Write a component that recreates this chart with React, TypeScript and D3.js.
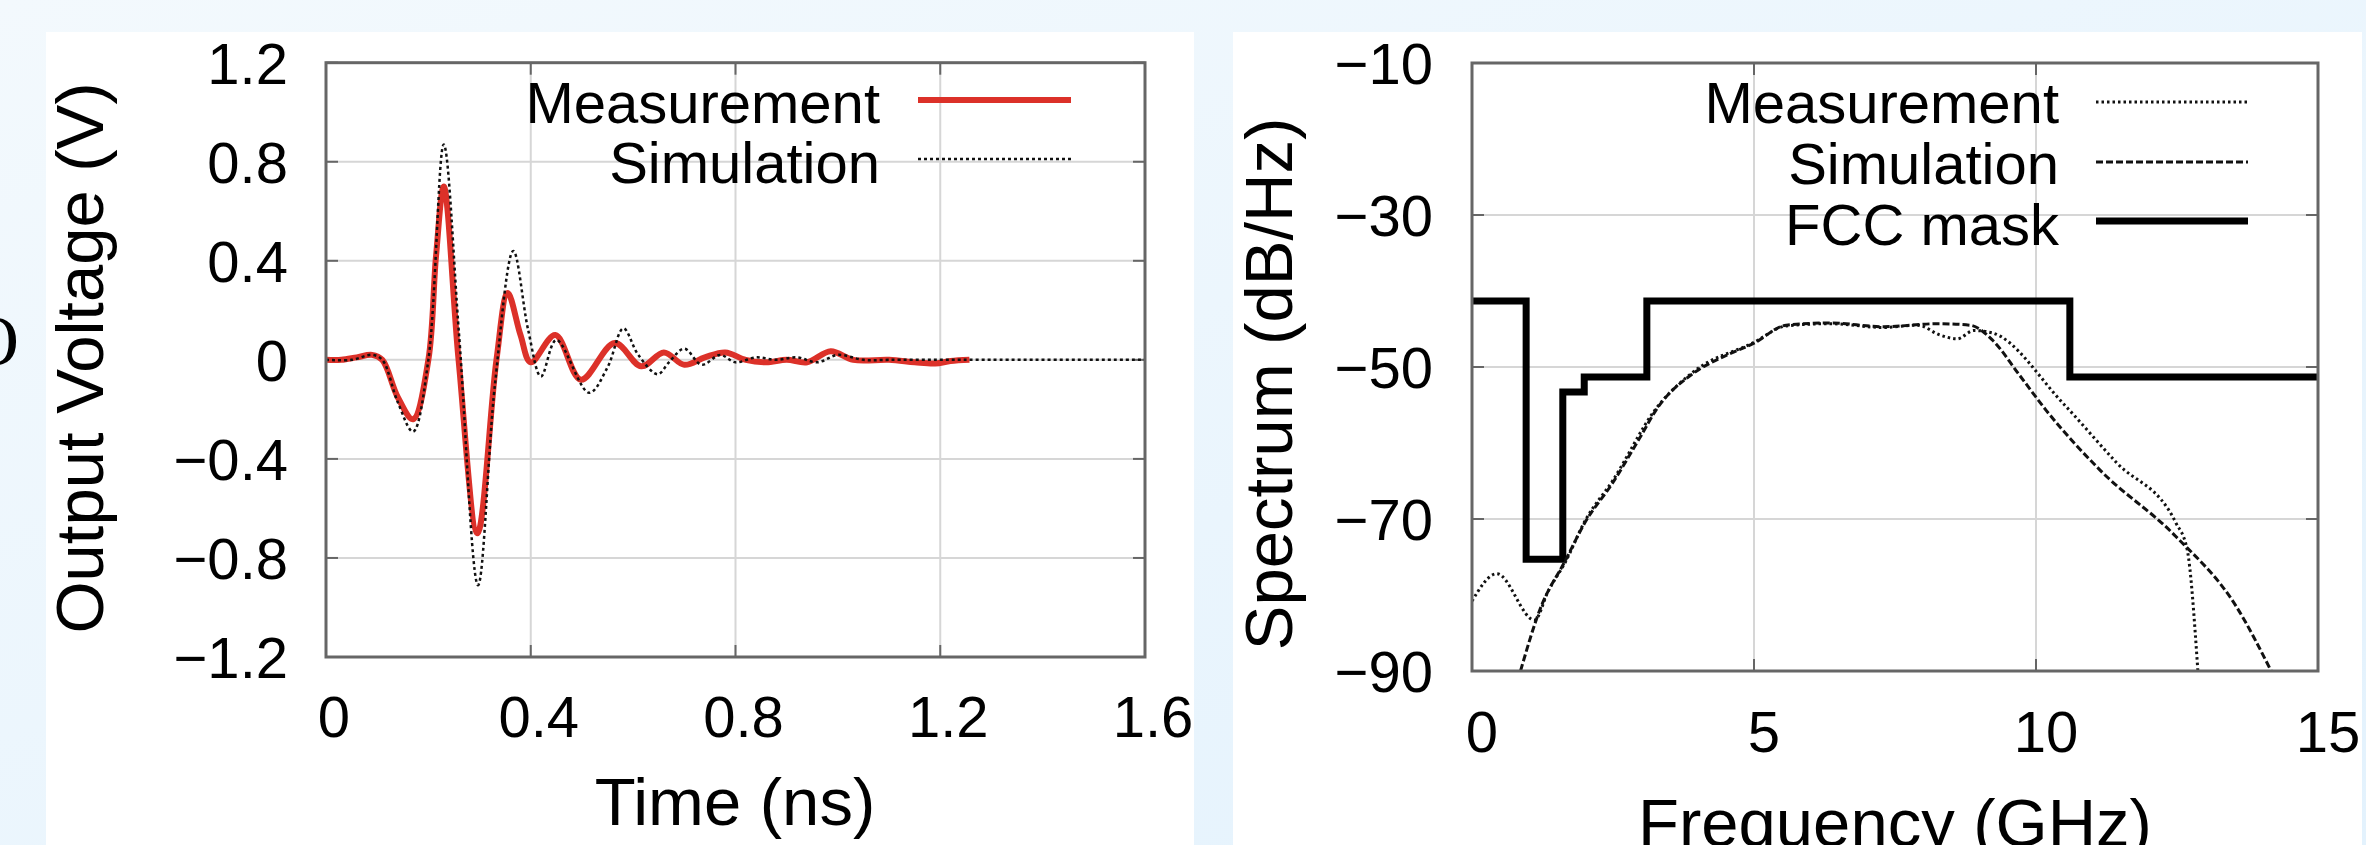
import React from 'react';
import * as d3 from 'd3';

// ---- data ----
const timeTicks = [0, 0.4, 0.8, 1.2, 1.6];
const voltTicks = [-1.2, -0.8, -0.4, 0, 0.4, 0.8, 1.2];
const freqTicks = [0, 5, 10, 15];
const dbTicks = [-90, -70, -50, -30, -10];

const measTime = [0, 0.03, 0.06, 0.09, 0.11, 0.14, 0.17, 0.2, 0.215, 0.23, 0.259, 0.296, 0.333, 0.355, 0.38, 0.40, 0.448, 0.498, 0.564, 0.616, 0.66, 0.70, 0.74, 0.78, 0.82, 0.86, 0.9, 0.94, 0.986, 1.03, 1.1, 1.15, 1.19, 1.22, 1.257];
const measVolt = [0, 0, 0.01, 0.02, 0, -0.15, -0.24, 0.0, 0.42, 0.70, 0.0, -0.70, 0.0, 0.27, 0.1, -0.01, 0.10, -0.08, 0.068, -0.026, 0.03, -0.02, 0.01, 0.03, 0, -0.01, 0, -0.01, 0.035, 0, 0, -0.01, -0.015, -0.005, 0];

const simTime = [0, 0.05, 0.09, 0.11, 0.14, 0.17, 0.2, 0.23, 0.26, 0.297, 0.33, 0.366, 0.395, 0.42, 0.45, 0.514, 0.55, 0.581, 0.61, 0.648, 0.67, 0.70, 0.734, 0.77, 0.80, 0.84, 0.88, 0.92, 0.96, 1.0, 1.05, 1.1, 1.2, 1.3, 1.6];
const simVolt = [0, 0, 0.02, 0, -0.17, -0.29, 0.0, 0.87, 0.1, -0.91, -0.1, 0.44, 0.12, -0.067, 0.08, -0.133, -0.03, 0.127, 0.02, -0.058, -0.01, 0.045, -0.02, 0.02, -0.01, 0.01, 0, 0.01, -0.01, 0.02, 0, 0, 0, 0, 0];

const specMeasFreq = [0, 0.44, 1.11, 1.35, 1.66, 2.0, 2.49, 3.26, 3.93, 4.99, 5.57, 6.34, 7.3, 7.9, 8.3, 8.6, 8.9, 9.22, 10.47, 11.43, 12.48, 12.68, 12.87];
const specMeasDb = [-80.8, -77.2, -83.3, -79.5, -75.6, -70.3, -65, -55.5, -50.6, -46.8, -44.6, -44.3, -44.8, -44.5, -45.8, -46.3, -45.2, -45.5, -54.7, -62.6, -70.5, -74, -90];

const specSimFreq = [0.86, 1.2, 1.66, 2.0, 2.49, 3.0, 3.26, 3.93, 4.5, 4.99, 5.57, 6.34, 7.3, 8.26, 8.83, 9.22, 9.7, 10.18, 11.14, 12.48, 13.55, 14.17];
const specSimDb = [-90, -82, -75.4, -70.5, -65.3, -59, -55.7, -50.8, -48.5, -46.9, -44.5, -44.2, -44.7, -44.3, -44.5, -46.4, -51, -55.7, -63.6, -72.3, -81.5, -90];

const fccFreq = [0, 0.96, 1.61, 1.99, 3.1, 10.6, 15];
const fccDb = [-41.3, -75.3, -53.3, -51.3, -41.3, -51.3, -51.3];

const leftLegend = ['Measurement', 'Simulation'];
const rightLegend = ['Measurement', 'Simulation', 'FCC mask'];

const FONT = '"Liberation Sans", Arial, Helvetica, sans-serif';
const GRID = '#d6d6d6';
const FRAME = '#666';
const RED = '#dc3129';

const zip = (a: number[], b: number[]) => a.map((v, i) => [v, b[i]] as [number, number]);
const fmtV = (d: number) => (d === 0 ? '0' : d3.format('.1f')(d));
const fmtT = (d: number) => (d === 0 ? '0' : d3.format('.1f')(d));

function Frame({ x, y, xt, yt }: any) {
  const [x0, x1] = x.range();
  const [y0, y1] = y.range();
  const tl = 12;
  return (
    <g>
      {xt.slice(1, -1).map((t: number) => (
        <line key={'gx' + t} x1={x(t)} x2={x(t)} y1={y0} y2={y1} stroke={GRID} strokeWidth={2} />
      ))}
      {yt.slice(1, -1).map((t: number) => (
        <line key={'gy' + t} x1={x0} x2={x1} y1={y(t)} y2={y(t)} stroke={GRID} strokeWidth={2} />
      ))}
      {xt.map((t: number) => (
        <g key={'tx' + t}>
          <line x1={x(t)} x2={x(t)} y1={y0} y2={y0 - tl} stroke={FRAME} strokeWidth={2} />
          <line x1={x(t)} x2={x(t)} y1={y1} y2={y1 + tl} stroke={FRAME} strokeWidth={2} />
        </g>
      ))}
      {yt.map((t: number) => (
        <g key={'ty' + t}>
          <line x1={x0} x2={x0 + tl} y1={y(t)} y2={y(t)} stroke={FRAME} strokeWidth={2} />
          <line x1={x1} x2={x1 - tl} y1={y(t)} y2={y(t)} stroke={FRAME} strokeWidth={2} />
        </g>
      ))}
    </g>
  );
}

function Border({ x, y }: any) {
  const [x0, x1] = x.range();
  const [y0, y1] = y.range();
  return <rect x={x0} y={y1} width={x1 - x0} height={y0 - y1} fill="none" stroke={FRAME} strokeWidth={3} />;
}

export default function App() {
  const W = 2366, H = 845;

  // left panel scales
  const xL = d3.scaleLinear().domain([0, 1.6]).range([326, 1145]);
  const yL = d3.scaleLinear().domain([-1.2, 1.2]).range([657, 62.7]);
  // right panel scales
  const xR = d3.scaleLinear().domain([0, 15]).range([1472, 2318]);
  const yR = d3.scaleLinear().domain([-90, -10]).range([671, 63]);

  const lineL = d3.line<[number, number]>().x(d => xL(d[0])).y(d => yL(d[1])).curve(d3.curveCatmullRom.alpha(0.5));
  const lineR = d3.line<[number, number]>().x(d => xR(d[0])).y(d => yR(d[1])).curve(d3.curveMonotoneX);
  const lineFcc = d3.line<[number, number]>().x(d => xR(d[0])).y(d => yR(d[1])).curve(d3.curveStepAfter);

  const tickFont = 58;
  const titleFont = 67;

  return (
    <svg width={W} height={H} viewBox={`0 0 ${W} ${H}`} style={{ display: 'block', position: 'absolute', left: 0, top: 0 }}>
      <defs>
        <linearGradient id="bg" x1="0" y1="0" x2="1" y2="1">
          <stop offset="0" stopColor="#f3f9fd" />
          <stop offset="1" stopColor="#e3f2fd" />
        </linearGradient>
        <clipPath id="clipL"><rect x={326} y={62.7} width={819} height={594.3} /></clipPath>
        <clipPath id="clipR"><rect x={1472} y={63} width={846} height={608} /></clipPath>
      </defs>
      <rect x={0} y={0} width={W} height={H} fill="url(#bg)" />
      <rect x={46} y={32} width={1148} height={H - 32} fill="#fff" />
      <rect x={1233} y={32} width={1129} height={H - 32} fill="#fff" />

      {/* stray serif glyph at the left edge */}
      <text x={19} y={365} textAnchor="end" fontFamily='"Liberation Serif", "Times New Roman", serif' fontSize={72} fill="#000">O</text>

      {/* ---------- left: time domain ---------- */}
      <Frame x={xL} y={yL} xt={timeTicks} yt={voltTicks} />
      <g clipPath="url(#clipL)">
        <path d={lineL(zip(measTime, measVolt)) || ''} fill="none" stroke={RED} strokeWidth={6} strokeLinejoin="round" />
        <path d={lineL(zip(simTime, simVolt)) || ''} fill="none" stroke="#111" strokeWidth={2.5} strokeDasharray="3,3" />
      </g>
      <Border x={xL} y={yL} />
      {voltTicks.map(t => (
        <text key={'vl' + t} x={288} y={yL(t) + 21} textAnchor="end" fontFamily={FONT} fontSize={tickFont}>{fmtV(t)}</text>
      ))}
      {timeTicks.map(t => (
        <text key={'tl' + t} x={xL(t) + 8} y={737} textAnchor="middle" fontFamily={FONT} fontSize={tickFont}>{fmtT(t)}</text>
      ))}
      <text x={735} y={825} textAnchor="middle" fontFamily={FONT} fontSize={titleFont}>Time (ns)</text>
      <text transform="translate(103,358) rotate(-90)" textAnchor="middle" fontFamily={FONT} fontSize={titleFont}>Output Voltage (V)</text>
      {leftLegend.map((s, i) => (
        <text key={s} x={880} y={102 + i * 60 + 21} textAnchor="end" fontFamily={FONT} fontSize={tickFont}>{s}</text>
      ))}
      <line x1={918} x2={1071} y1={100} y2={100} stroke={RED} strokeWidth={6} />
      <line x1={918} x2={1071} y1={159} y2={159} stroke="#111" strokeWidth={2.5} strokeDasharray="3,3" />

      {/* ---------- right: spectrum ---------- */}
      <Frame x={xR} y={yR} xt={freqTicks} yt={dbTicks} />
      <g clipPath="url(#clipR)">
        <path d={lineFcc(zip(fccFreq, fccDb)) || ''} fill="none" stroke="#000" strokeWidth={7} />
        <path d={lineR(zip(specSimFreq, specSimDb)) || ''} fill="none" stroke="#111" strokeWidth={3} strokeDasharray="7,3" />
        <path d={lineR(zip(specMeasFreq, specMeasDb)) || ''} fill="none" stroke="#111" strokeWidth={3} strokeDasharray="2.5,3" />
      </g>
      <Border x={xR} y={yR} />
      {dbTicks.map(t => (
        <text key={'dl' + t} x={1433} y={yR(t) + 21} textAnchor="end" fontFamily={FONT} fontSize={tickFont}>{d3.format('d')(t)}</text>
      ))}
      {freqTicks.map(t => (
        <text key={'fl' + t} x={xR(t) + 10} y={752} textAnchor="middle" fontFamily={FONT} fontSize={tickFont}>{t}</text>
      ))}
      <text x={1895} y={846} textAnchor="middle" fontFamily={FONT} fontSize={titleFont}>Frequency (GHz)</text>
      <text transform="translate(1292,384) rotate(-90)" textAnchor="middle" fontFamily={FONT} fontSize={titleFont}>Spectrum (dB/Hz)</text>
      {rightLegend.map((s, i) => (
        <text key={s} x={2059} y={102 + i * 61 + 21} textAnchor="end" fontFamily={FONT} fontSize={tickFont}>{s}</text>
      ))}
      <line x1={2096} x2={2248} y1={102} y2={102} stroke="#111" strokeWidth={3} strokeDasharray="2.5,3" />
      <line x1={2096} x2={2248} y1={162} y2={162} stroke="#111" strokeWidth={3} strokeDasharray="7,3" />
      <line x1={2096} x2={2248} y1={221} y2={221} stroke="#000" strokeWidth={7} />
    </svg>
  );
}
